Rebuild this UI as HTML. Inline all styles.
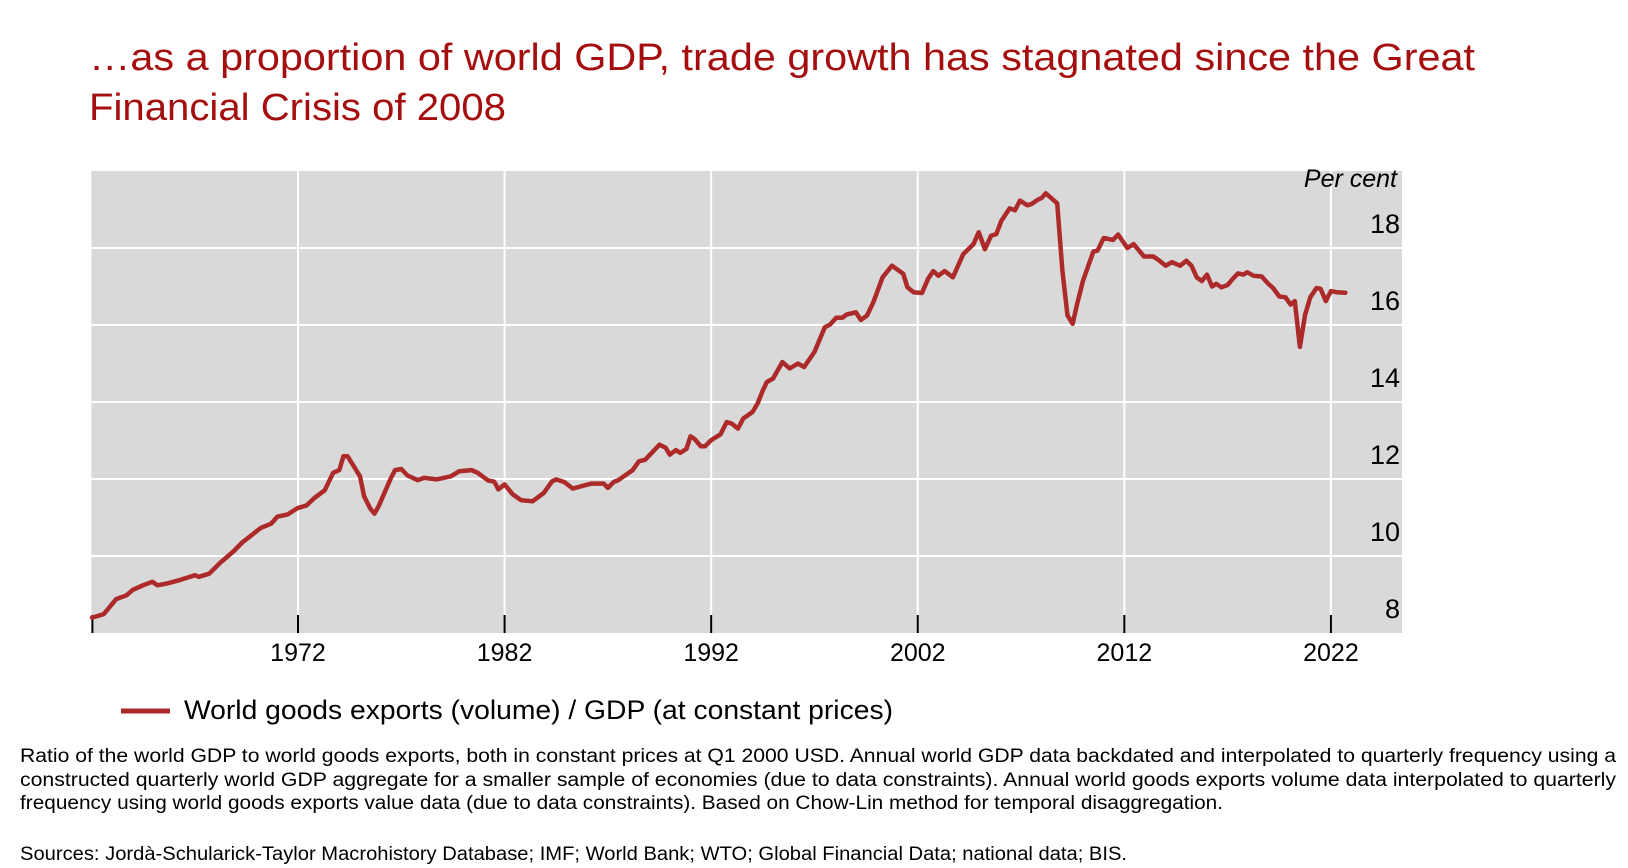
<!DOCTYPE html>
<html><head><meta charset="utf-8"><style>
html,body{margin:0;padding:0;background:#fff;}
svg{display:block;font-family:"Liberation Sans",sans-serif;}
</style></head><body>
<svg id="chart" width="1628" height="868" viewBox="0 0 1628 868" xmlns="http://www.w3.org/2000/svg">
<g fill="#a50e0e" font-size="38">
<text x="89" y="70" textLength="1386" lengthAdjust="spacingAndGlyphs">…as a proportion of world GDP, trade growth has stagnated since the Great</text>
<text x="89" y="120" textLength="417" lengthAdjust="spacingAndGlyphs">Financial Crisis of 2008</text>
</g>
<rect x="91.4" y="171" width="1310.6" height="462" fill="#d9d9d9"/>
<g id="grid"></g>
<g id="yaxis"></g>
<g id="xaxis"></g>
<text x="1397" y="187" text-anchor="end" font-size="25" font-style="italic" fill="#000">Per cent</text>
<path id="series" fill="none" stroke="#ad2a2a" stroke-width="4.5" stroke-linejoin="round" stroke-linecap="round"/>
<g>
<line x1="121" y1="711" x2="170" y2="711" stroke="#ad2a2a" stroke-width="5"/>
<text x="184" y="719" font-size="27" textLength="709" lengthAdjust="spacingAndGlyphs">World goods exports (volume) / GDP (at constant prices)</text>
</g>
<g font-size="19" fill="#000">
<text x="20" y="762" textLength="1596" lengthAdjust="spacingAndGlyphs">Ratio of the world GDP to world goods exports, both in constant prices at Q1 2000 USD. Annual world GDP data backdated and interpolated to quarterly frequency using a</text>
<text x="20" y="786" textLength="1596" lengthAdjust="spacingAndGlyphs">constructed quarterly world GDP aggregate for a smaller sample of economies (due to data constraints). Annual world goods exports volume data interpolated to quarterly</text>
<text x="20" y="809" textLength="1203" lengthAdjust="spacingAndGlyphs">frequency using world goods exports value data (due to data constraints). Based on Chow-Lin method for temporal disaggregation.</text>
<text x="20" y="860" textLength="1107" lengthAdjust="spacingAndGlyphs">Sources: Jordà-Schularick-Taylor Macrohistory Database; IMF; World Bank; WTO; Global Financial Data; national data; BIS.</text>
</g>
</svg>
<script>
const years=[1962.03,1962.6,1963.2,1963.7,1964.0,1964.5,1964.95,1965.2,1965.7,1966.3,1967.0,1967.2,1967.7,1968.25,1968.9,1969.3,1970.2,1970.7,1971.0,1971.5,1972.0,1972.4,1972.8,1973.3,1973.7,1974.0,1974.2,1974.4,1975.0,1975.2,1975.5,1975.7,1975.9,1976.5,1976.7,1977.0,1977.3,1977.8,1978.1,1978.7,1979.4,1979.8,1980.4,1980.7,1981.2,1981.5,1981.7,1982.0,1982.4,1982.8,1983.35,1983.9,1984.3,1984.5,1984.9,1985.3,1986.2,1986.8,1987.0,1987.3,1987.5,1988.2,1988.5,1988.8,1989.5,1989.8,1990.0,1990.3,1990.5,1990.8,1991.0,1991.2,1991.5,1991.7,1992.0,1992.45,1992.75,1993.0,1993.3,1993.55,1994.0,1994.25,1994.5,1994.7,1995.0,1995.45,1995.8,1996.2,1996.5,1997.0,1997.5,1997.75,1998.05,1998.35,1998.55,1999.0,1999.25,1999.55,1999.85,2000.3,2000.75,2001.3,2001.5,2001.8,2002.2,2002.5,2002.75,2003.0,2003.3,2003.7,2004.2,2004.7,2004.95,2005.25,2005.55,2005.8,2006.05,2006.45,2006.7,2006.95,2007.3,2007.5,2007.8,2008.0,2008.2,2008.75,2009.0,2009.25,2009.5,2009.7,2010.0,2010.5,2010.7,2011.0,2011.45,2011.7,2012.15,2012.45,2012.95,2013.4,2013.65,2014.0,2014.3,2014.7,2015.0,2015.25,2015.5,2015.75,2016.0,2016.25,2016.45,2016.7,2017.0,2017.25,2017.5,2017.75,2017.95,2018.25,2018.65,2018.95,2019.2,2019.5,2019.8,2020.05,2020.25,2020.5,2020.75,2021.0,2021.3,2021.5,2021.75,2022.0,2022.3,2022.7];
const values=[8.40,8.49,8.88,8.98,9.12,9.24,9.33,9.24,9.29,9.38,9.50,9.46,9.54,9.83,10.13,10.35,10.73,10.84,11.02,11.08,11.25,11.31,11.51,11.71,12.16,12.23,12.59,12.59,12.07,11.55,11.23,11.10,11.29,12.03,12.23,12.26,12.09,11.97,12.03,11.99,12.07,12.20,12.23,12.16,11.96,11.93,11.73,11.86,11.60,11.45,11.42,11.64,11.94,11.99,11.92,11.75,11.88,11.88,11.77,11.93,11.97,12.23,12.46,12.50,12.89,12.81,12.63,12.75,12.68,12.78,13.11,13.04,12.85,12.85,13.01,13.16,13.48,13.44,13.31,13.57,13.74,13.96,14.30,14.52,14.61,15.04,14.87,15.00,14.91,15.30,15.94,16.01,16.19,16.19,16.27,16.33,16.13,16.25,16.59,17.24,17.54,17.33,16.98,16.85,16.83,17.20,17.40,17.28,17.40,17.24,17.84,18.10,18.41,17.97,18.32,18.36,18.71,19.03,18.98,19.23,19.11,19.14,19.25,19.30,19.42,19.16,17.41,16.25,16.03,16.51,17.15,17.91,17.93,18.26,18.21,18.35,18.00,18.10,17.78,17.78,17.69,17.54,17.63,17.54,17.67,17.54,17.24,17.14,17.31,17.00,17.07,16.98,17.04,17.20,17.34,17.31,17.37,17.28,17.26,17.08,16.96,16.74,16.72,16.53,16.62,15.43,16.27,16.72,16.96,16.94,16.62,16.88,16.85,16.84];
const xTicks=[1972,1982,1992,2002,2012,2022];
const yTicks=[8,10,12,14,16,18];
const NS='http://www.w3.org/2000/svg';
const x0=91.4,x1=1402,y0=633,y1=171,yrMin=1962,yrMax=2025.44,vMin=8,vMax=20;
function sx(t){return x0+(t-yrMin)/(yrMax-yrMin)*(x1-x0);}
function sy(v){return y0-(v-vMin)/(vMax-vMin)*(y0-y1);}
const grid=document.getElementById('grid'),ya=document.getElementById('yaxis'),xa=document.getElementById('xaxis');
function mk(tag,attrs,parent){const e=document.createElementNS(NS,tag);for(const k in attrs)e.setAttribute(k,attrs[k]);parent.appendChild(e);return e;}
yTicks.forEach(v=>{
  if(v>vMin){const g=mk('line',{x1:x0,x2:x1,y1:sy(v),y2:sy(v),stroke:'#fff','stroke-width':2},grid);
  
  }
  const t=mk('text',{x:1400,y:sy(v)-15,'text-anchor':'end','font-size':27,fill:'#000'},ya);
  
  
  t.textContent=v;
});
xTicks.forEach(yr=>{
  const g=mk('line',{x1:sx(yr),x2:sx(yr),y1:y1,y2:y0,stroke:'#fff','stroke-width':2},grid);
  
  
  const tk=mk('line',{x1:sx(yr),x2:sx(yr),y1:y0-18,y2:y0,stroke:'#000','stroke-width':2},xa);
  
  
  const t=mk('text',{x:sx(yr),y:661,'text-anchor':'middle','font-size':25,fill:'#000'},xa);
  
  
  t.textContent=yr;
});
const lt=mk('line',{x1:x0+1,x2:x0+1,y1:y0-18,y2:y0,stroke:'#000','stroke-width':2},xa);


let d='';years.forEach((t,i)=>{d+=(i?'L':'M')+sx(t).toFixed(1)+' '+sy(values[i]).toFixed(1);});
document.getElementById('series').setAttribute('d',d);
</script>
</body></html>
